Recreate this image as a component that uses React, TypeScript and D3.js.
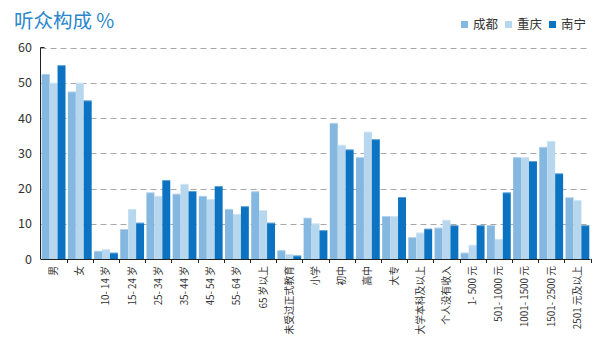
import React from "react";
import * as d3 from "d3";

const categories = [
  "男", "女", "10- 14 岁", "15- 24 岁", "25- 34 岁", "35- 44 岁", "45- 54 岁", "55- 64 岁", "65 岁以上",
  "未受过正式教育", "小学", "初中", "高中", "大专", "大学本科及以上",
  "个人没有收入", "1- 500 元", "501- 1000 元", "1001- 1500 元", "1501- 2500 元", "2501 元及以上",
];
const seriesNames = ["成都", "重庆", "南宁"];
const chengdu = [52.5, 47.5, 2.3, 8.5, 18.9, 18.5, 17.9, 14.2, 19.2, 2.5, 11.7, 38.6, 28.9, 12.2, 6.2, 8.9, 1.8, 9.6, 28.9, 31.8, 17.5];
const chongqing = [50.0, 50.0, 2.8, 14.2, 17.9, 21.3, 17.0, 12.8, 13.9, 1.4, 10.1, 32.4, 36.1, 12.2, 7.5, 11.1, 4.0, 5.7, 28.9, 33.5, 16.7];
const nanning = [55.0, 45.0, 1.8, 10.3, 22.4, 19.3, 20.7, 15.0, 10.3, 1.0, 8.2, 31.1, 34.0, 17.6, 8.6, 9.6, 9.6, 18.9, 27.8, 24.3, 9.6];
const yTicks = [0, 10, 20, 30, 40, 50, 60];
const colors = ["#84b8e0", "#b7d7ef", "#0b73c1"];

const W = 600, H = 354;
const left = 40.5, right = 590.5, top = 47.5, bottom = 259;
const font = "'Noto Sans CJK SC', 'Noto Sans', sans-serif";

export default function App() {
  const x = d3.scaleBand<string>().domain(categories).range([left, right]).paddingInner(0).paddingOuter(0);
  const inner = d3.scaleBand<string>().domain(seriesNames).range([0, x.bandwidth()]).paddingOuter(0.15).paddingInner(0);
  const y = d3.scaleLinear().domain([0, 60]).range([bottom, top]);
  const series = [chengdu, chongqing, nanning];

  return (
    <div style={{ position: "absolute", left: 0, top: 0 }}>
      <svg width={W} height={H} style={{ display: "block", background: "#fff" }} fontFamily={font}>
        <text x={14} y={28} fontSize={19.5} fill="#2b86cb">听众构成 %</text>
        {/* legend */}
        {seriesNames.map((n, i) => {
          const lx = 461 + i * 44;
          return (
            <g key={n}>
              <rect x={lx} y={21} width={7} height={7} fill={colors[i]} />
              <text x={lx + 12} y={29} fontSize={12.5} fill="#333">{n}</text>
            </g>
          );
        })}
        {/* grid */}
        {yTicks.filter((t) => t > 0).map((t) => (
          <line key={t} x1={left} x2={right} y1={Math.round(y(t)) + 0.5} y2={Math.round(y(t)) + 0.5}
            stroke="#a8a8a8" strokeWidth={1} strokeDasharray="6,4" />
        ))}
        {/* y labels */}
        {yTicks.map((t) => (
          <text key={t} x={32} y={y(t) + 4.5} fontSize={12.5} fill="#333" textAnchor="end">{t}</text>
        ))}
        {/* bars */}
        {categories.map((c, ci) => (
          <g key={c}>
            {series.map((s, si) => {
              const bx = (x(c) as number) + (inner(seriesNames[si]) as number);
              const by = y(s[ci]);
              return (
                <g key={si}>
                  <rect x={bx} y={by} width={inner.bandwidth()} height={bottom - by} fill={colors[si]} />
                  <rect x={bx} y={by} width={inner.bandwidth()} height={1} fill="#fff" opacity={0.35} />
                </g>
              );
            })}
          </g>
        ))}
        {/* axes */}
        <line x1={left} x2={left} y1={top} y2={bottom} stroke="#222" />
        <line x1={left} x2={left + 4} y1={top} y2={top} stroke="#222" />
        <line x1={left} x2={right} y1={bottom + 0.5} y2={bottom + 0.5} stroke="#222" />
        {categories.map((c) => (
          <line key={c} x1={Math.round((x(c) as number) + x.bandwidth()) + 0.5} x2={Math.round((x(c) as number) + x.bandwidth()) + 0.5}
            y1={bottom} y2={bottom + 4} stroke="#222" />
        ))}
        {/* x labels */}
        {categories.map((c) => {
          const cx = (x(c) as number) + x.bandwidth() / 2;
          return (
            <text key={c} transform={`translate(${cx},266) rotate(-90)`} fontSize={9.8} fill="#333"
              textAnchor="end" dy="0.35em">{c}</text>
          );
        })}
      </svg>
    </div>
  );
}
